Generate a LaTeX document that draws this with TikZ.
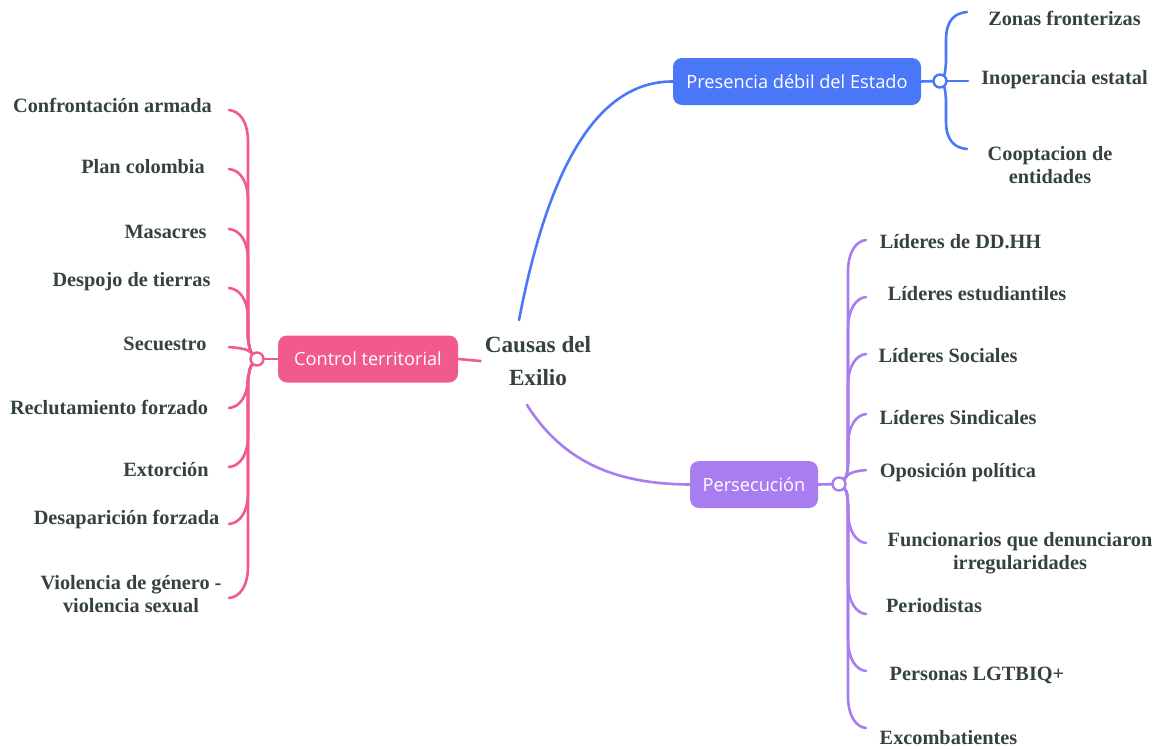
\documentclass[tikz,border=0pt]{standalone}
\usepackage{fontspec}
\setmainfont{Liberation Serif}
\newfontfamily\boxfont{Open Sans}
\usetikzlibrary{calc}
\pgfdeclarelayer{bg}
\pgfsetlayers{bg,main}
\definecolor{cpink}{RGB}{242,90,140}
\definecolor{cblue}{RGB}{74,120,248}
\definecolor{cpurple}{RGB}{167,125,240}
\definecolor{ctext}{RGB}{52,68,58}
\begin{document}
\begin{tikzpicture}[x=1pt,y=-1pt,
  leaf/.style={font=\fontsize{20.3}{23.5}\selectfont\bfseries, text=ctext, inner sep=0pt, align=center},
  rootnode/.style={font=\fontsize{23.2}{33}\selectfont\bfseries, text=ctext, inner sep=0pt, align=center},
  catbox/.style={rounded corners=9pt, minimum height=47pt, text=white, font=\boxfont\fontsize{18.2}{20}\selectfont, inner sep=0pt},
  hubdot/.style={circle, draw=#1, fill=white, line width=2.4pt, minimum size=13pt, inner sep=0pt},
  branch/.style={draw=#1, line width=2.6pt, line cap=round},
]
\useasboundingbox (0,0) rectangle (1154,748);

% root and categories
\node[rootnode] (root) at (538,361) {Causas del\\Exilio};
\node[catbox, fill=cpink, minimum width=180pt] (ctl) at (368,359) {Control territorial};
\node[catbox, fill=cblue, minimum width=248pt] (pres) at (797,81.5) {Presencia débil del Estado};
\node[catbox, fill=cpurple, minimum width=128pt] (pers) at (754,484.5) {Persecución};

% hubs
\node[hubdot=cpink] (hubL) at (257,359) {};
\node[hubdot=cblue] (hubB) at (940,81) {};
\node[hubdot=cpurple] (hubP) at (839,484) {};

% left leaves
\node[leaf] (l1) at (112.5,105) {Confrontación armada};
\node[leaf] (l2) at (143,167) {Plan colombia};
\node[leaf] (l3) at (165.5,232) {Masacres};
\node[leaf] (l4) at (131.5,282) {Despojo de tierras};
\node[leaf] (l5) at (165,344) {Secuestro};
\node[leaf] (l6) at (109,407) {Reclutamiento forzado};
\node[leaf] (l7) at (166,470) {Extorción};
\node[leaf] (l8) at (126.5,520) {Desaparición forzada};
\node[leaf] (l9) at (131,594) {Violencia de género -\\violencia sexual};

% blue leaves
\node[leaf] (b1) at (1064.5,18) {Zonas fronterizas};
\node[leaf] (b2) at (1064.5,80) {Inoperancia estatal};
\node[leaf] (b3) at (1050,165) {Cooptacion de\\entidades};

% purple leaves
\node[leaf] (p1) at (960.5,242) {Líderes de DD.HH};
\node[leaf] (p2) at (977,294) {Líderes estudiantiles};
\node[leaf] (p3) at (948,356) {Líderes Sociales};
\node[leaf] (p4) at (958,418) {Líderes Sindicales};
\node[leaf] (p5) at (958,473) {Oposición política};
\node[leaf] (p6) at (1020,553) {Funcionarios que denunciaron\\irregularidades};
\node[leaf] (p7) at (934,606) {Periodistas};
\node[leaf] (p8) at (977,675) {Personas LGTBIQ+};
\node[leaf] (p9) at (948.5,738) {Excombatientes};

\begin{pgfonlayer}{bg}
\fill[white] (0,0) rectangle (1154,748);
% main connectors
\draw[branch=cpink] (hubL.center) -- (ctl.west);
\draw[branch=cpink] (ctl.east) -- ([xshift=-4pt]root.west);
\draw[branch=cblue] ([shift={(-19,-41)}]root.center) .. controls (545,185) and (590,81) .. (pres.west);
\draw[branch=cpurple] ([shift={(-11,44)}]root.center) .. controls (565,465) and (620,484) .. (pers.west);
\draw[branch=cblue] (pres.east) -- (hubB.center);
\draw[branch=cpurple] (pers.east) -- (hubP.center);

% pink branches above
\foreach \n/\y in {1/110,2/169,3/229,4/288} {
  \coordinate (e\n) at (229,\y);
  \draw[branch=cpink] (hubL.center) .. controls (250,352) .. (248,338) -- (248,{\y+32}) .. controls (248,{\y+12}) and (240,{\y+1}) .. (e\n);
}
\coordinate (e5) at (229,347);
\draw[branch=cpink] (hubL.center) .. controls (248,349) .. (e5);
% pink branches below
\foreach \n/\y in {6/408,7/467,8/524,9/598} {
  \coordinate (e\n) at (229,\y);
  \draw[branch=cpink] (hubL.center) .. controls (250,366) .. (248,380) -- (248,{\y-32}) .. controls (248,{\y-12}) and (240,{\y-1}) .. (e\n);
}

% blue branches
\coordinate (f1) at (967,12);
\coordinate (f2) at (968,81);
\coordinate (f3) at (967,149);
\draw[branch=cblue] (hubB.center) .. controls (945,75) .. (946,62) -- (946,40) .. controls (946,20) and (955,13) .. (f1);
\draw[branch=cblue] (hubB.center) -- (f2);
\draw[branch=cblue] (hubB.center) .. controls (945,87) .. (946,100) -- (946,121) .. controls (946,141) and (955,148) .. (f3);

% purple branches above
\foreach \n/\y in {1/240,2/297,3/354,4/414} {
  \coordinate (g\n) at (866,\y);
  \draw[branch=cpurple] (hubP.center) .. controls (847,478) .. (848,463) -- (848,{\y+32}) .. controls (848,{\y+12}) and (856,{\y+1}) .. (g\n);
}
\coordinate (g5) at (866,470);
\draw[branch=cpurple] (hubP.center) .. controls (850,472) .. (g5);
% purple branches below
\foreach \n/\y in {6/543,7/614,8/671,9/728} {
  \coordinate (g\n) at (866,\y);
  \draw[branch=cpurple] (hubP.center) .. controls (847,490) .. (848,505) -- (848,{\y-32}) .. controls (848,{\y-12}) and (856,{\y-1}) .. (g\n);
}
\end{pgfonlayer}
\end{tikzpicture}
\end{document}
